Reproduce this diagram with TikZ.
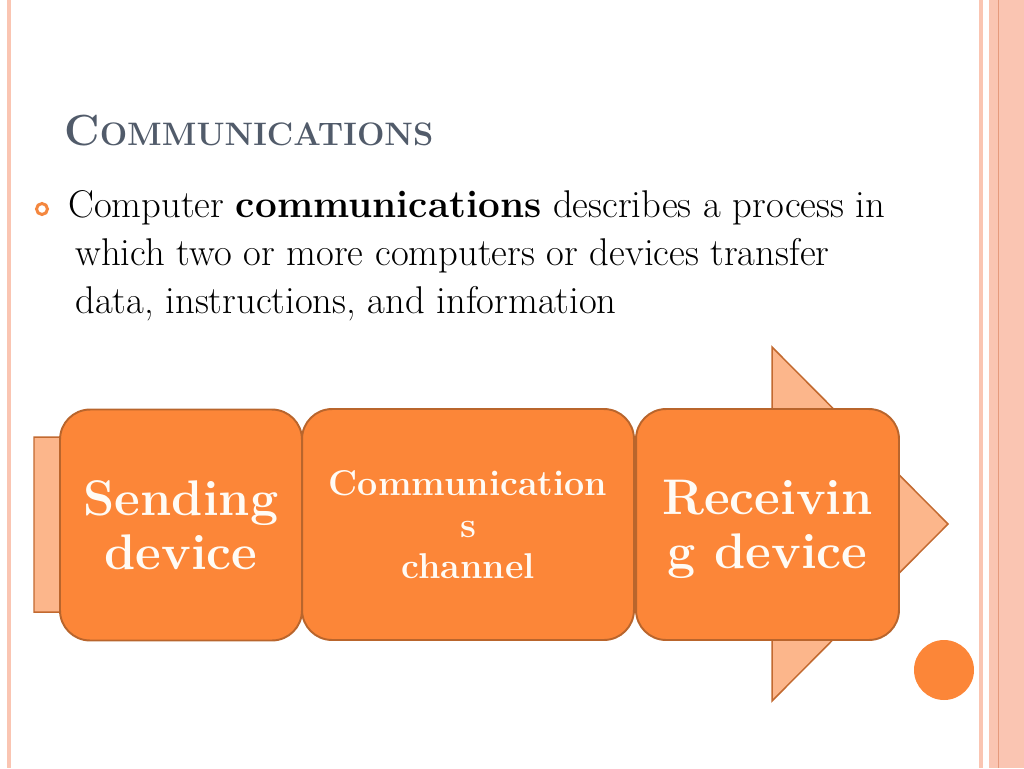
\documentclass[tikz,border=0pt]{standalone}
\usepackage{fontspec}
\definecolor{boxfill}{HTML}{FC8638}
\definecolor{boxborder}{HTML}{B9652C}
\definecolor{arrowfill}{HTML}{FCB68B}
\definecolor{arrowborder}{HTML}{C2692F}
\definecolor{titlegray}{HTML}{515B6A}
\definecolor{bulletorange}{HTML}{F4873F}
\definecolor{edgepink}{HTML}{FAC5B2}
\definecolor{edgeline}{HTML}{E59A7C}
\definecolor{cardtext}{HTML}{FFFBF5}
\tikzset{
  card/.style={
    rectangle,
    rounded corners=0.6cm,
    align=center,
    draw=boxborder,
    fill=boxfill,
    line width=1.1pt,
    minimum height=4.62cm,
    text=cardtext,
    text depth=0pt,
    font=\fontsize{28.5}{30.6}\selectfont\bfseries
  },
  smallcard/.style={card, font=\fontsize{20.4}{23.5}\selectfont\bfseries},
  bigarrow/.style={fill=arrowfill, draw=arrowborder, line width=0.85pt, line join=miter},
  bodyline/.style={anchor=base west, inner sep=0pt, font=\fontsize{22}{27}\selectfont},
  titletext/.style={anchor=base west, inner sep=0pt, text=titlegray, font=\bfseries},
  bulletring/.style={circle, draw=bulletorange, line width=1.7pt, minimum size=0.22cm, inner sep=0pt},
  dot/.style={circle, fill=boxfill, minimum size=1.2cm, inner sep=0pt}
}

\begin{document}
\begin{tikzpicture}[x=0.02cm, y=-0.02cm]
\useasboundingbox (0,0) rectangle (1024,768);

% Slide edges.
\fill[edgepink] (7,0) rectangle (11,768);
\fill[edgepink] (979,0) rectangle (983,768);
\fill[edgepink] (989,0) rectangle (1024,768);
\draw[edgeline, line width=0.5pt] (998,0) -- (998,768);

% Title.
\node[titletext] (title) at (64,145) {{\fontsize{24.8}{24.8}\selectfont C}{\fontsize{18.5}{18.5}\selectfont OMMUNICATIONS}};

% Bullet text.
\node[bulletring] (bullet) at (42,209) {};
\node[bodyline] (line1) at (68,217) {Computer \textbf{communications} describes a process in};
\node[bodyline] (line2) at (75,265) {which two or more computers or devices transfer};
\node[bodyline] (line3) at (75,313) {data, instructions, and information};

% Background arrow.
\draw[bigarrow] (34,437) -- (772,437) -- (772,347) -- (948,524)
  -- (772,701) -- (772,612) -- (34,612) -- cycle;

% Three steps.
\node[card, minimum width=4.84cm] (sender) at (181,525) {Sending\\device};
\node[smallcard, minimum width=6.64cm] (channel) at (468,524.5) {Communication\\s\\channel};
\node[card, minimum width=5.26cm] (receiver) at (767.5,524.5) {Receivin\\g device};

% Corner dot.
\node[dot] (corner) at (944,670) {};

\end{tikzpicture}
\end{document}
